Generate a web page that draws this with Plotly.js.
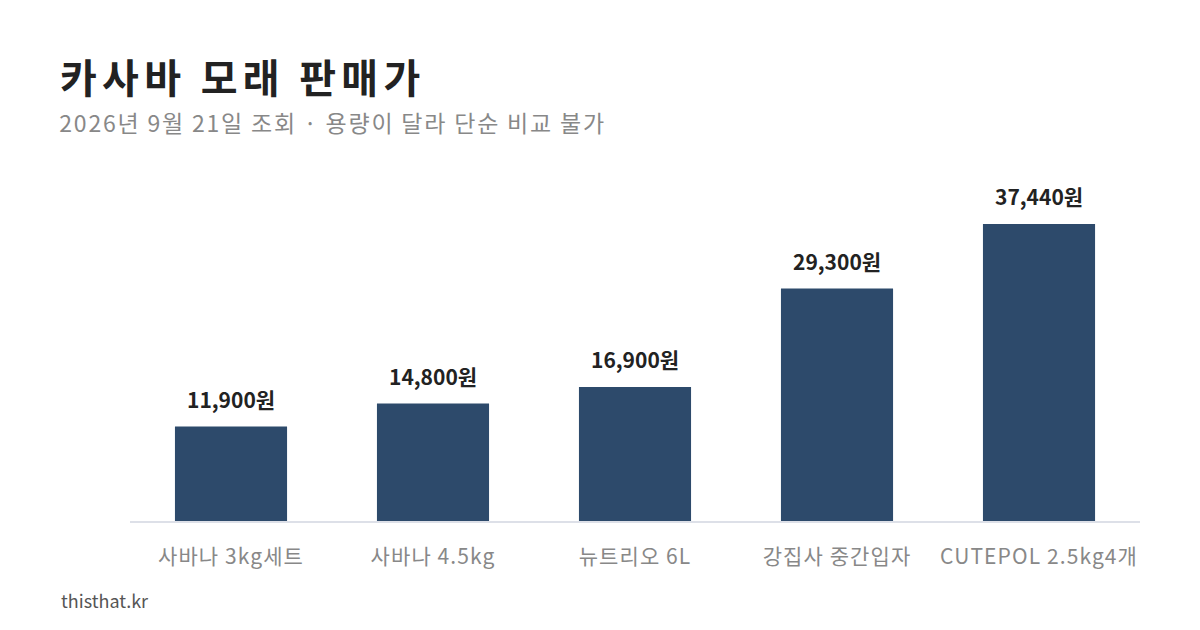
<!DOCTYPE html>
<html>
<head>
<meta charset="utf-8">
<script src="https://cdn.plot.ly/plotly-3.0.1.min.js"></script>
<style>
html,body{margin:0;padding:0;background:#fff;}
#chart{width:1200px;height:630px;}
#chart .gtitle{letter-spacing:5.3px;}
#chart .annotation[data-index="5"] text{letter-spacing:1.8px;}
#chart .xtick text{letter-spacing:1.1px;}
</style>
</head>
<body>
<div id="chart"></div>
<script>
const categories = ["사바나 3kg세트", "사바나 4.5kg", "뉴트리오 6L", "강집사 중간입자", "CUTEPOL 2.5kg4개"];
const prices = [11900, 14800, 16900, 29300, 37440];
const priceLabels = ["11,900원", "14,800원", "16,900원", "29,300원", "37,440원"];
const titleText = "카사바 모래 판매가";
const subtitleText = "2026년 9월 21일 조회 · 용량이 달라 단순 비교 불가";
const footerText = "thisthat.kr";

const FONT = "'Noto Sans CJK KR', 'Noto Sans', sans-serif";

const trace = {
  type: 'bar',
  x: categories,
  y: prices,
  marker: {color: '#2d4a6b'},
  hoverinfo: 'skip'
};

const labelAnnotations = categories.map((c, i) => ({
  x: c, y: prices[i], xref: 'x', yref: 'y',
  text: '<b>' + priceLabels[i] + '</b>',
  showarrow: false, yanchor: 'middle', yshift: 28,
  font: {family: FONT, size: 21, color: '#222'}
}));

const layout = {
  width: 1200, height: 630,
  paper_bgcolor: '#fff', plot_bgcolor: '#fff',
  margin: {l: 130, r: 60, t: 170, b: 109},
  bargap: 0.445,
  showlegend: false,
  font: {family: FONT},
  title: {
    text: '<b>' + titleText + '</b>',
    xref: 'container', yref: 'container',
    x: 60/1200, xanchor: 'left',
    y: 1 - 79/630, yanchor: 'middle',
    font: {family: FONT, size: 40, color: '#222'}
  },
  xaxis: {
    showline: true, linecolor: '#dde0e8', linewidth: 2,
    showgrid: false, zeroline: false,
    ticks: '', ticklabelstandoff: 16,
    tickfont: {family: FONT, size: 21, color: '#888'},
    fixedrange: true
  },
  yaxis: {
    range: [0, 44250],
    showgrid: false, zeroline: false, showline: false,
    showticklabels: false, ticks: ''
  },
  annotations: labelAnnotations.concat([
    {
      xref: 'paper', yref: 'paper',
      x: -43/1010, xanchor: 'left',
      y: 1 + (170 - 122)/351, yanchor: 'middle',
      text: subtitleText, showarrow: false,
      font: {family: FONT, size: 23, color: '#888'}
    },
    {
      xref: 'paper', yref: 'paper',
      x: -71/1010, xanchor: 'left',
      y: -(600 - 521)/351, yanchor: 'middle',
      text: footerText, showarrow: false,
      font: {family: FONT, size: 18, color: '#555'}
    }
  ])
};

Plotly.newPlot('chart', [trace], layout, {displayModeBar: false, staticPlot: true});
</script>
</body>
</html>
